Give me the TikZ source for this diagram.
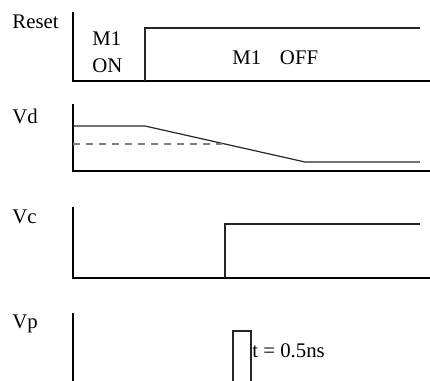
\documentclass[tikz,border=0pt]{standalone}
\usepackage{fontspec}
\setmainfont{Liberation Serif}
\usetikzlibrary{positioning}
\tikzset{
    axis/.style={line width=0.6pt},
    wave/.style={line width=0.6pt, black!85},
    lbl/.style={anchor=base west, inner sep=0pt, font=\fontsize{10.4}{12}\selectfont},
}

\begin{document}
\begin{tikzpicture}[x=0.5pt, y=-0.5pt]
    \useasboundingbox (0,0) rectangle (430,381);

    \draw[axis] (73,12) -- (73,81) -- (430,81);
    \draw[axis] (73,104) -- (73,171) -- (430,171);
    \draw[axis] (73,207) -- (73,278) -- (430,278);
    \draw[axis] (73,313) -- (73,381);

    \draw[wave] (145,81) -- (145,28) -- (420,28);
    \draw[wave] (73,126) -- (145,126) -- (305,162) -- (420,162);
    \draw[wave, gray, dash pattern=on 3.5pt off 3pt] (73,144) -- (222,144);
    \draw[wave] (225,278) -- (225,224) -- (420,224);
    \draw[wave] (233,381) -- (233,331) -- (251,331) -- (251,381);

    \node[lbl] (reset) at (12,28) {Reset};
    \node[lbl] (m1on) at (92,45) {M1};
    \node[lbl] (on) at (92,72) {ON};
    \node[lbl] (m1off) at (232,64) {M1\hspace{0.9em}OFF};
    \node[lbl] (vd) at (12,123) {Vd};
    \node[lbl] (vc) at (12,223) {Vc};
    \node[lbl] (vp) at (12,328) {Vp};
    \node[lbl] (width) at (252,357) {t = 0.5ns};
\end{tikzpicture}
\end{document}
